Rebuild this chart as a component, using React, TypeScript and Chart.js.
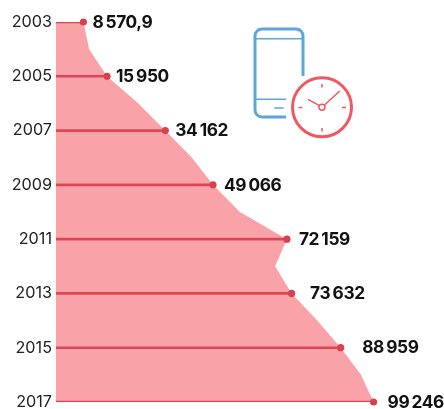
import React, { useEffect, useRef } from "react";
import { Chart, registerables } from "chart.js";

Chart.register(...registerables);

const years = ["2003","2004","2005","2006","2007","2008","2009","2010","2011","2012","2013","2014","2015","2016","2017"];
const areaValues = [8570.9,10364,15950,25750,34162,42500,49066,57470,72159,68470,73632,81660,88959,95300,99246];
const markerValues = [8570.9,null,15950,null,34162,null,49066,null,72159,null,73632,null,88959,null,99246];
const valueLabels = ["8\u2009570,9","","15\u2009950","","34\u2009162","","49\u2009066","","72\u2009159","","73\u2009632","","88\u2009959","","99\u2009246"];
const labelGaps = [9,0,9,0,10,0,11,0,12,0,18.5,0,21.5,0,14];

const AREA = "#F9A3A9";
const LINE = "#DE4655";
const DOT = "#D8404F";
const BLUE = "#5CA6DC";
const CLOCK = "#F2565F";

const valueLabelPlugin = {
  id: "valueLabels",
  afterDatasetsDraw(chart: any) {
    const { ctx, scales } = chart;
    ctx.save();
    ctx.fillStyle = "#111111";
    ctx.font = "700 17.3px Inter";
    ctx.textBaseline = "middle";
    ctx.textAlign = "left";
    (ctx as any).letterSpacing = "-0.4px";
    markerValues.forEach((v, i) => {
      if (v === null) return;
      ctx.fillText(valueLabels[i], scales.x.getPixelForValue(v) + labelGaps[i], scales.y.getPixelForValue(years[i]) + 0.5);
    });
    ctx.restore();
  },
};

const iconPlugin = {
  id: "icon",
  afterDraw(chart: any) {
    const { ctx } = chart;
    ctx.save();
    ctx.lineCap = "butt";
    ctx.strokeStyle = BLUE;
    ctx.lineWidth = 3;
    ctx.stroke(new Path2D("M303 76 V36 a7 7 0 0 0 -7 -7 H262 a7 7 0 0 0 -7 7 V110 a7 7 0 0 0 7 7 H286"));
    ctx.lineWidth = 1.5;
    ctx.stroke(new Path2D("M256 38.7 H302 M256 99.3 H286 M274.3 108 H283.7"));
    ctx.strokeStyle = CLOCK;
    ctx.lineWidth = 3;
    ctx.beginPath();
    ctx.arc(322, 107.3, 29.5, 0, Math.PI * 2);
    ctx.stroke();
    ctx.lineWidth = 1.5;
    ctx.beginPath();
    ctx.arc(322, 107.3, 3, 0, Math.PI * 2);
    ctx.stroke();
    ctx.stroke(new Path2D("M324.2 105.2 L339.7 91 M319.5 105.6 L308 99.3 M322 84 V87.5 M322 128 V131.5 M298.5 107.5 H302.3 M342 107.5 H346"));
    ctx.restore();
  },
};

export default function App() {
  const ref = useRef<HTMLCanvasElement>(null);
  useEffect(() => {
    const chart = new Chart(ref.current as HTMLCanvasElement, {
      type: "line",
      data: {
        labels: years,
        datasets: [
          { type: "line", data: areaValues, borderWidth: 0, borderColor: "transparent", backgroundColor: AREA, fill: "origin", pointRadius: 0, tension: 0, order: 3 },
          { type: "bar", data: markerValues, backgroundColor: LINE, barThickness: 2, order: 2 },
          { type: "line", data: markerValues, showLine: false, pointRadius: 3.6, pointBackgroundColor: DOT, pointBorderWidth: 0, clip: false, order: 1 },
        ],
      } as any,
      options: {
        indexAxis: "y",
        animation: false,
        responsive: false,
        maintainAspectRatio: false,
        layout: { padding: { top: 22, bottom: 7, left: 0, right: 0 } },
        plugins: { legend: { display: false }, tooltip: { enabled: false } },
        scales: {
          x: { type: "linear", min: 0, max: 120000, display: false },
          y: {
            type: "category",
            reverse: false,
            offset: false,
            grid: { display: false, drawTicks: false },
            border: { display: false },
            afterFit: (s: any) => { s.width = 56; s.paddingTop = 0; s.paddingBottom = 0; },
            ticks: {
              autoSkip: false,
              padding: 4,
              color: "#222222",
              font: { family: "Inter", size: 16.2, weight: "400" },
              callback(this: any, _v: any, i: number) { return i % 2 === 0 ? years[i] : ""; },
            },
          },
        },
      } as any,
      plugins: [valueLabelPlugin, iconPlugin],
    });
    return () => chart.destroy();
  }, []);
  return (
    <div style={{ position: "fixed", left: 0, top: 0, width: 444, height: 409, background: "#fff" }}>
      <canvas ref={ref} width={444} height={409} style={{ display: "block" }} />
    </div>
  );
}
